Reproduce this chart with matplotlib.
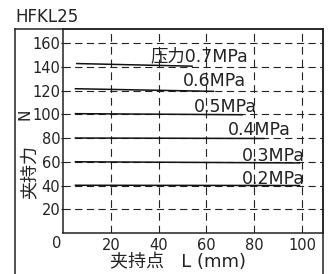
import matplotlib
matplotlib.use("Agg")
import matplotlib.pyplot as plt
from matplotlib.lines import Line2D

plt.rcParams['font.family'] = ['DejaVu Sans', 'Noto Sans CJK SC']

# Data
pressures = ['0.7MPa', '0.6MPa', '0.5MPa', '0.4MPa', '0.3MPa', '0.2MPa']
label_texts = ['压力0.7MPa', '0.6MPa', '0.5MPa', '0.4MPa', '0.3MPa', '0.2MPa']
line_x = [[5.8, 54], [5.2, 63], [5.2, 75], [5.2, 84], [5.2, 99], [5.2, 99]]
line_y = [[142.7, 140.5], [121.5, 119.3], [100.5, 99.6], [80.0, 79.6], [60.0, 59.0], [40.2, 40.0]]
label_x = [36.6, 50.0, 54.6, 69.0, 74.8, 74.8]
label_y = [148.5, 128.0, 106.5, 86.5, 65.0, 45.5]
xticks = [20, 40, 60, 80, 100]
yticks = [20, 40, 60, 80, 100, 120, 140, 160]

W, H = 332, 274
fig = plt.figure(figsize=(W / 100, H / 100), dpi=100)
ax = fig.add_axes([63 / W, 1 - 233 / H, (323 - 63) / W, (233 - 29) / H])
ax.set_xlim(0, 108.8)
ax.set_ylim(0, 171.8)

gc = '#222222'
for xv in xticks:
    ax.axvline(xv, color=gc, lw=0.8, ls=(0, (7, 4.5)), zorder=1)
for yv in yticks:
    ax.axhline(yv, color=gc, lw=0.8, ls=(0, (6.5, 4)), zorder=1)

for xs, ys in zip(line_x, line_y):
    ax.plot(xs, ys, color='#111111', lw=1.1, zorder=3)

for t, lx, ly in zip(label_texts, label_x, label_y):
    ax.text(lx, ly, t, fontsize=12.5, color='#222222', ha='left', va='center', zorder=4)

ax.set_xticks(xticks)
ax.set_xticklabels([str(v) for v in xticks], fontsize=10.5, color='#222222')
ax.set_yticks(yticks)
ax.set_yticklabels([str(v) for v in yticks], fontsize=10.5, color='#222222')
ax.tick_params(axis='x', length=0, pad=3.5)
ax.tick_params(axis='y', length=1.5, width=0.8, pad=0.5, direction='out')
for s in ax.spines.values():
    s.set_linewidth(1.1)
    s.set_color('#222222')

# origin label
fig.text(57 / W, 1 - 243 / H, '0', fontsize=10.5, color='#222222', ha='center', va='center')

# axis titles
fig.text(178 / W, 1 - 262 / H, '夹持点   L (mm)', fontsize=13, color='#222222', ha='center', va='center')
fig.text(29 / W, 1 - 172 / H, '夹持力', fontsize=13, color='#222222', rotation=90, ha='center', va='center')
fig.text(25 / W, 1 - 114 / H, 'N', fontsize=11, color='#222222', rotation=90, ha='center', va='center')

# title
fig.text(15 / W, 1 - 17.5 / H, 'HFKL25', fontsize=12, color='#222222', ha='left', va='center')

# outer frame
for (x0, y0, x1, y1) in [(15, 29, 323, 29), (15, 29, 15, 276), (323, 29, 323, 276)]:
    fig.add_artist(Line2D([x0 / W, x1 / W], [1 - y0 / H, 1 - y1 / H], color='#222222', lw=1.1,
                          transform=fig.transFigure))

fig.savefig('out.png', dpi=100)
